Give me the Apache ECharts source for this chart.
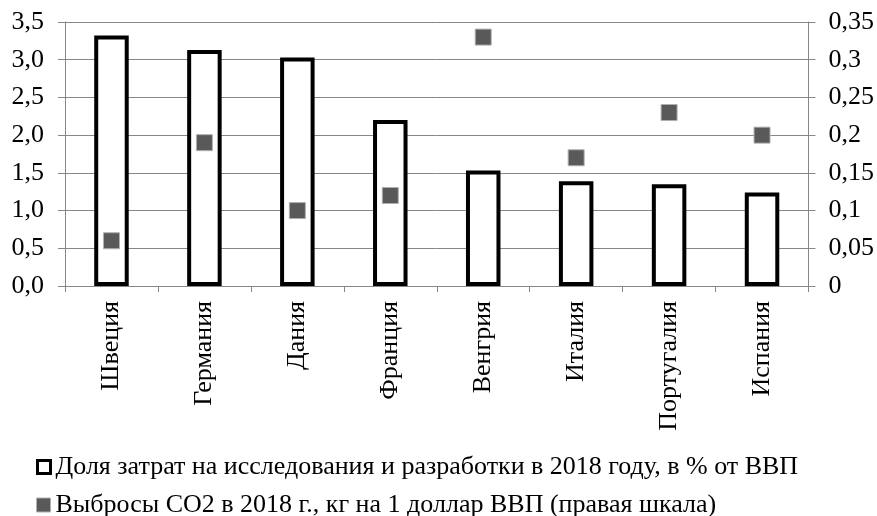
<!DOCTYPE html>
<html>
<head>
<meta charset="utf-8">
<script src="https://cdn.jsdelivr.net/npm/echarts@6/dist/echarts.min.js"></script>
<style>html,body{margin:0;padding:0;background:#fff}#c{width:877px;height:516px}</style>
</head>
<body>
<div id="c"></div>
<script>
const categories = ['Швеция','Германия','Дания','Франция','Венгрия','Италия','Португалия','Испания'];
const rdShare = [3.32, 3.13, 3.03, 2.20, 1.53, 1.39, 1.35, 1.24];
const co2 = [0.06, 0.19, 0.10, 0.12, 0.33, 0.17, 0.23, 0.20];
const seriesNames = ['Доля затрат на исследования и разработки в 2018 году, в % от ВВП','Выбросы CO2 в 2018 г., кг на 1 доллар ВВП (правая шкала)'];

const FONT = 'Liberation Serif';
const FS = 26;
const grayLine = '#878787';
const chart = echarts.init(document.getElementById('c'));
const legendText = {fontFamily: FONT, fontSize: FS, color: '#000'};
chart.setOption({
  animation: false,
  textStyle: {fontFamily: FONT},
  grid: {left: 65, right: 68, top: 22, bottom: 230, containLabel: false},
  legend: [
    {
      left: 31, top: 449, itemWidth: 13, itemHeight: 13, textStyle: legendText,
      data: [{name: seriesNames[0], icon: 'rect', itemStyle: {color: '#fff', borderColor: '#000', borderWidth: 3}}]
    },
    {
      left: 31, top: 487, itemWidth: 14, itemHeight: 14, textStyle: legendText,
      data: [{name: seriesNames[1], icon: 'rect', itemStyle: {color: '#595959', borderColor: '#b0b0b0', borderWidth: 1}}]
    }
  ],
  xAxis: {
    type: 'category', data: categories, boundaryGap: true,
    axisLine: {lineStyle: {color: grayLine, width: 1}},
    axisTick: {show: true, length: 6, lineStyle: {color: grayLine}},
    axisLabel: {rotate: 90, fontFamily: FONT, fontSize: FS, color: '#000', margin: 15, interval: 0}
  },
  yAxis: [
    {
      type: 'value', min: 0, max: 3.5, interval: 0.5,
      axisLine: {show: true, lineStyle: {color: grayLine}},
      axisTick: {show: true, length: 7, lineStyle: {color: grayLine}},
      splitLine: {lineStyle: {color: grayLine, width: 1}},
      axisLabel: {fontFamily: FONT, fontSize: FS, color: '#000', margin: 21,
        formatter: v => v.toFixed(1).replace('.', ',')}
    },
    {
      type: 'value', min: 0, max: 0.35, interval: 0.05,
      axisLine: {show: true, lineStyle: {color: grayLine}},
      axisTick: {show: true, length: 7, lineStyle: {color: grayLine}},
      splitLine: {show: false},
      axisLabel: {fontFamily: FONT, fontSize: FS, color: '#000', margin: 20,
        formatter: v => String(Number(v.toFixed(2))).replace('.', ',')}
    }
  ],
  series: [
    {
      name: seriesNames[0], type: 'bar', data: rdShare, yAxisIndex: 0, barWidth: 34.5,
      itemStyle: {color: '#fff', borderColor: '#000', borderWidth: 4}
    },
    {
      name: seriesNames[1], type: 'scatter', data: co2, yAxisIndex: 1,
      symbol: 'rect', symbolSize: 16,
      itemStyle: {color: '#595959', borderColor: '#b0b0b0', borderWidth: 1, opacity: 1}
    }
  ]
});
</script>
</body>
</html>
